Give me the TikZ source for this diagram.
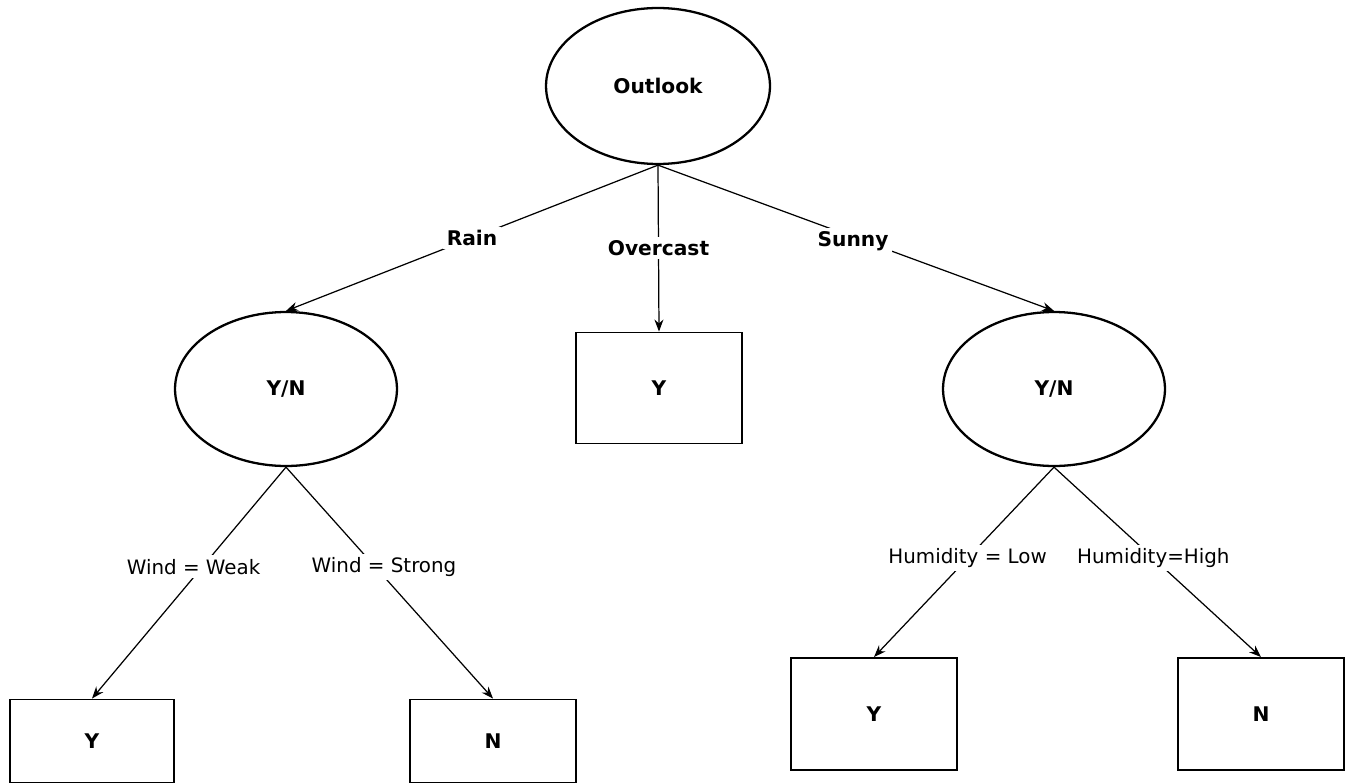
\documentclass[tikz,border=0pt]{standalone}
\usepackage{fontspec}
\setmainfont{DejaVu Sans}
\usetikzlibrary{shapes.geometric,arrows.meta}
\tikzset{
  choice/.style={ellipse,draw,line width=1.3pt,inner sep=0pt,
    minimum width=4.44cm,minimum height=3.08cm,font=\fontsize{11.5}{13}\selectfont\bfseries},
  leaf/.style={rectangle,draw,line width=1.1pt,inner sep=0pt,
    minimum width=3.32cm,minimum height=2.22cm,font=\fontsize{11.5}{13}\selectfont\bfseries},
  cond/.style={fill=white,inner sep=2pt,font=\fontsize{11.3}{13}\selectfont},
  bcond/.style={fill=white,inner sep=2pt,font=\fontsize{11.5}{13}\selectfont\bfseries}
}
\begin{document}
\begin{tikzpicture}[x=0.02cm,y=-0.02cm]
      \useasboundingbox (0,0) rectangle (1349,784);
      \draw
        (658,86) node[choice,minimum width=4.48cm,minimum height=3.12cm] (outlook){Outlook}
        (286,389) node[choice] (wind){Y/N}
        (1054,389) node[choice] (humid){Y/N}
        (659,388) node[leaf] (over){Y}
        (92,741) node[leaf,minimum width=3.28cm,minimum height=1.66cm] (weak){Y}
        (493,741) node[leaf,minimum width=3.32cm,minimum height=1.66cm] (strong){N}
        (874,714) node[leaf,minimum height=2.24cm] (low){Y}
        (1261,714) node[leaf,minimum height=2.24cm] (high){N};
      \begin{scope}[-{Stealth[length=0.24cm,width=0.18cm]},line width=0.7pt]
        \draw (outlook.south) to node[bcond]{Rain} (wind.north);
        \draw (outlook.south) to node[bcond]{Overcast} (over.north);
        \draw (outlook.south) to node[bcond,xshift=-0.06cm,yshift=-0.06cm]{Sunny} (humid.north);
        \draw (wind.south) to node[cond,pos=0.43,xshift=-0.18cm]{Wind = Weak} (weak.north);
        \draw (wind.south) to node[cond,pos=0.43,xshift=0.18cm]{Wind = Strong} (strong.north);
        \draw (humid.south) to node[cond,pos=0.48]{Humidity = Low} (low.north);
        \draw (humid.south) to node[cond,pos=0.48]{Humidity=High} (high.north);
      \end{scope}
    \end{tikzpicture}
\end{document}
